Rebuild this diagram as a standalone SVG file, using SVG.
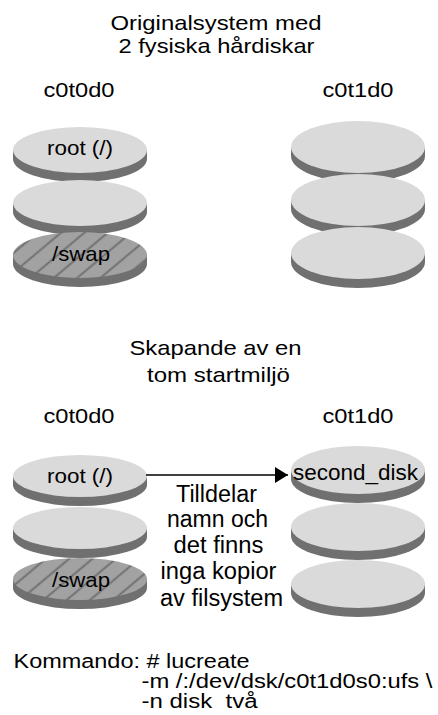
<svg xmlns="http://www.w3.org/2000/svg" width="438" height="715" viewBox="0 0 438 715">
  <style>
    text { font-family: "Liberation Sans", Arial, Helvetica, sans-serif; font-size: 21px; fill: #000; }
    .mid { text-anchor: middle; }
    .note { font-size: 23px; }
    .cmd { font-size: 20px; }
    .face { fill: #dadada; }
    .edge { fill: #707070; }
    .swap { fill: url(#hatch); }
    .conn { stroke: #000; stroke-width: 1.3; fill: none; }
  </style>
  <defs>
    <pattern id="hatch" patternUnits="userSpaceOnUse" width="10" height="15" patternTransform="rotate(-40)">
      <rect width="10" height="15" fill="#a2a2a2"/>
      <line x1="0" y1="7.5" x2="10" y2="7.5" stroke="#6c6c6c" stroke-width="1.8"/>
    </pattern>
    <marker id="arrow" markerWidth="13" markerHeight="16" refX="13" refY="8" orient="auto" markerUnits="userSpaceOnUse">
      <path d="M0,0 L13,8 L0,16 Z" fill="#000"/>
    </marker>
  </defs>

  <!-- Section 1 titles -->
  <g id="title-original">
    <text class="mid" x="216" y="30" textLength="211" lengthAdjust="spacingAndGlyphs">Originalsystem med</text>
    <text class="mid" x="216.5" y="53" textLength="196" lengthAdjust="spacingAndGlyphs">2 fysiska hårdiskar</text>
  </g>

  <!-- Section 1: disk c0t0d0 -->
  <g id="disk-a-top">
    <text class="mid" x="79" y="97" textLength="71" lengthAdjust="spacingAndGlyphs">c0t0d0</text>
    <path class="edge" d="M13,150 h134 v9 a67,23 0 0 1 -134,0 Z"/>
    <ellipse class="face" cx="80" cy="150" rx="67" ry="23"/>
    <path class="edge" d="M13,203 h134 v9 a67,23 0 0 1 -134,0 Z"/>
    <ellipse class="face" cx="80" cy="203" rx="67" ry="23"/>
    <path class="edge" d="M13,255 h134 v9 a67,23 0 0 1 -134,0 Z"/>
    <ellipse class="swap" cx="80" cy="255" rx="67" ry="23"/>
    <text class="mid" x="80" y="155" textLength="66" lengthAdjust="spacingAndGlyphs">root (/)</text>
    <text class="mid" x="81" y="261" textLength="58" lengthAdjust="spacingAndGlyphs">/swap</text>
  </g>

  <!-- Section 1: disk c0t1d0 -->
  <g id="disk-b-top">
    <text class="mid" x="358" y="97" textLength="71" lengthAdjust="spacingAndGlyphs">c0t1d0</text>
    <path class="edge" d="M291,147 h134 v9 a67,26 0 0 1 -134,0 Z"/>
    <ellipse class="face" cx="358" cy="147" rx="67" ry="26"/>
    <path class="edge" d="M291,200 h134 v9 a67,26 0 0 1 -134,0 Z"/>
    <ellipse class="face" cx="358" cy="200" rx="67" ry="26"/>
    <path class="edge" d="M291,253 h134 v9 a67,26 0 0 1 -134,0 Z"/>
    <ellipse class="face" cx="358" cy="253" rx="67" ry="26"/>
  </g>

  <!-- Section 2 titles -->
  <g id="title-create">
    <text class="mid" x="215.5" y="355" textLength="172" lengthAdjust="spacingAndGlyphs">Skapande av en</text>
    <text class="mid" x="218.5" y="381.5" textLength="143" lengthAdjust="spacingAndGlyphs">tom startmiljö</text>
  </g>

  <!-- Section 2: disk c0t0d0 -->
  <g id="disk-a-bottom">
    <text class="mid" x="79" y="423" textLength="71" lengthAdjust="spacingAndGlyphs">c0t0d0</text>
    <path class="edge" d="M13,476 h134 v9 a67,21 0 0 1 -134,0 Z"/>
    <ellipse class="face" cx="80" cy="476" rx="67" ry="21"/>
    <path class="edge" d="M13,528 h134 v9 a67,21 0 0 1 -134,0 Z"/>
    <ellipse class="face" cx="80" cy="528" rx="67" ry="21"/>
    <path class="edge" d="M13,579 h134 v9 a67,21 0 0 1 -134,0 Z"/>
    <ellipse class="swap" cx="80" cy="579" rx="67" ry="21"/>
    <text class="mid" x="80" y="483" textLength="66" lengthAdjust="spacingAndGlyphs">root (/)</text>
    <text class="mid" x="81" y="587" textLength="58" lengthAdjust="spacingAndGlyphs">/swap</text>
  </g>

  <!-- Section 2: disk c0t1d0 -->
  <g id="disk-b-bottom">
    <text class="mid" x="358" y="423" textLength="71" lengthAdjust="spacingAndGlyphs">c0t1d0</text>
    <path class="edge" d="M291,470 h134 v9 a67,24 0 0 1 -134,0 Z"/>
    <ellipse class="face" cx="358" cy="470" rx="67" ry="24"/>
    <path class="edge" d="M291,527 h134 v9 a67,24 0 0 1 -134,0 Z"/>
    <ellipse class="face" cx="358" cy="527" rx="67" ry="24"/>
    <path class="edge" d="M291,584 h134 v9 a67,24 0 0 1 -134,0 Z"/>
    <ellipse class="face" cx="358" cy="584" rx="67" ry="24"/>
    <text class="mid" x="355.5" y="480" style="font-size:22px" textLength="125" lengthAdjust="spacingAndGlyphs">second_disk</text>
  </g>

  <!-- Connector with its label -->
  <g id="connectors">
    <line class="conn" x1="146" y1="475" x2="288" y2="475" marker-end="url(#arrow)"/>
  </g>
  <g id="label-assign">
    <text class="mid note" x="216.5" y="501.5" textLength="81" lengthAdjust="spacingAndGlyphs">Tilldelar</text>
    <text class="mid note" x="217.5" y="527" textLength="101" lengthAdjust="spacingAndGlyphs">namn och</text>
    <text class="mid note" x="218.5" y="553" textLength="90" lengthAdjust="spacingAndGlyphs">det finns</text>
    <text class="mid note" x="218.5" y="579" textLength="116" lengthAdjust="spacingAndGlyphs">inga kopior</text>
    <text class="mid note" x="221.5" y="606" textLength="123" lengthAdjust="spacingAndGlyphs">av filsystem</text>
  </g>

  <!-- Command -->
  <g id="command">
    <text class="cmd" x="13.5" y="668" textLength="236" lengthAdjust="spacingAndGlyphs">Kommando: # lucreate</text>
    <text class="cmd" x="141.5" y="688" textLength="291" lengthAdjust="spacingAndGlyphs">-m /:/dev/dsk/c0t1d0s0:ufs \</text>
    <text class="cmd" x="141.5" y="708" textLength="116" lengthAdjust="spacingAndGlyphs" xml:space="preserve">-n disk  två</text>
  </g>
</svg>
